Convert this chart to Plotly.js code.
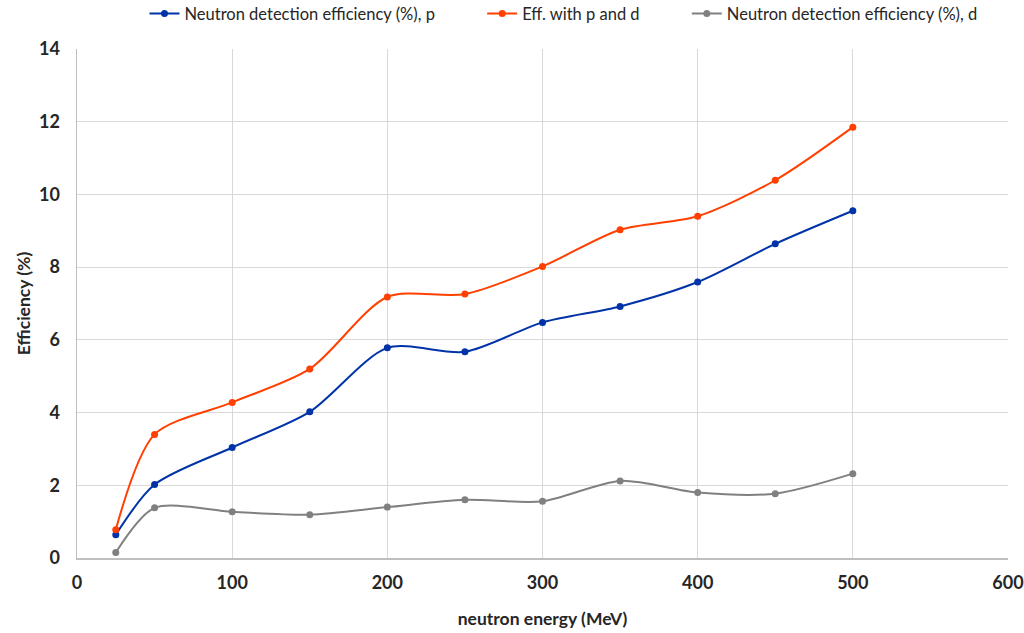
<!DOCTYPE html>
<html>
<head>
<meta charset="utf-8">
<script src="https://cdn.plot.ly/plotly-3.0.1.min.js"></script>
<style>html,body{margin:0;padding:0;background:#fff;}#chart{width:1024px;height:633px;}</style>
</head>
<body>
<div id="chart"></div>
<script>
var energy = [25, 50, 100, 150, 200, 250, 300, 350, 400, 450, 500];
var effP = [0.64, 2.02, 3.04, 4.02, 5.78, 5.67, 6.48, 6.92, 7.59, 8.64, 9.55];
var effPD = [0.78, 3.40, 4.28, 5.20, 7.18, 7.26, 8.02, 9.03, 9.40, 10.39, 11.85];
var effD = [0.15, 1.38, 1.27, 1.19, 1.40, 1.60, 1.56, 2.12, 1.80, 1.77, 2.32];
var names = ['Neutron detection efficiency (%), p', 'Eff. with p and d', 'Neutron detection efficiency (%), d'];
var colors = ['#0033A8', '#FF4000', '#808080'];
var series = [effP, effPD, effD];

var font = 'Lato, "Open Sans", "DejaVu Sans", sans-serif';
var pad = '\u00a0\u00a0\u00a0\u00a0\u00a0\u00a0\u00a0\u00a0\u00a0\u00a0';
var traces = series.map(function (ys, i) {
  return {
    x: energy, y: ys, name: names[i] + (i < 2 ? pad : ''), type: 'scatter', mode: 'lines+markers',
    line: {color: colors[i], width: 2, shape: 'spline', smoothing: 0.8},
    marker: {color: colors[i], size: 7}
  };
});

var layout = {
  width: 1024, height: 633,
  margin: {l: 77, r: 16, t: 49, b: 75, autoexpand: false},
  paper_bgcolor: '#fff', plot_bgcolor: '#fff',
  font: {family: font, color: '#262626'},
  showlegend: true,
  legend: {orientation: 'h', x: 0.0725, xanchor: 'left', y: 1.069, yanchor: 'middle',
           font: {size: 16.5, color: '#262626'}},
  xaxis: {
    range: [0, 600], dtick: 100, tick0: 0,
    showgrid: true, gridcolor: '#d9d9d9', gridwidth: 1,
    showline: true, linecolor: '#bfbfbf', linewidth: 1.5,
    zeroline: false, ticks: '', ticklabelstandoff: 8,
    tickfont: {size: 18, family: font, weight: 'bold', color: '#262626'},
    title: {text: '<b>neutron energy (MeV)</b>', font: {size: 17.5, family: font, color: '#262626'}, standoff: 20}
  },
  yaxis: {
    range: [0, 14], dtick: 2, tick0: 0,
    showgrid: true, gridcolor: '#d9d9d9', gridwidth: 1,
    showline: true, linecolor: '#bfbfbf', linewidth: 1.5,
    zeroline: false, ticks: '', ticklabelstandoff: 12,
    tickfont: {size: 18, family: font, weight: 'bold', color: '#262626'},
    title: {text: '<b>Efficiency (%)</b>', font: {size: 17.5, family: font, color: '#262626'}, standoff: 4}
  }
};

Plotly.newPlot('chart', traces, layout, {displayModeBar: false, staticPlot: true});
</script>
</body>
</html>
